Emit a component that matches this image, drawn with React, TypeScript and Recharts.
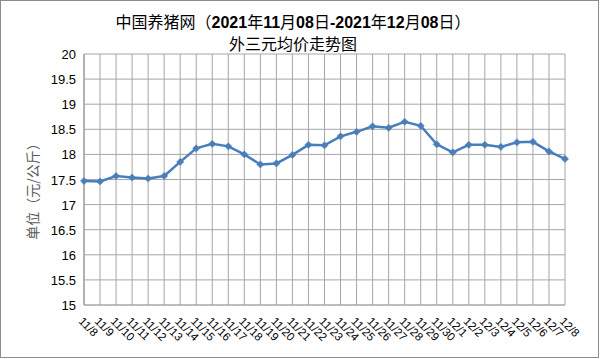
import React from 'react';
import { LineChart, Line, XAxis, YAxis, CartesianGrid } from 'recharts';

const dates = [
  '11/8', '11/9', '11/10', '11/11', '11/12', '11/13', '11/14', '11/15', '11/16', '11/17',
  '11/18', '11/19', '11/20', '11/21', '11/22', '11/23', '11/24', '11/25', '11/26', '11/27',
  '11/28', '11/29', '11/30', '12/1', '12/2', '12/3', '12/4', '12/5', '12/6', '12/7', '12/8',
];
const prices = [
  17.47, 17.46, 17.57, 17.54, 17.52, 17.57, 17.85, 18.12, 18.21, 18.16,
  18.0, 17.8, 17.82, 17.99, 18.19, 18.18, 18.36, 18.45, 18.56, 18.53,
  18.65, 18.57, 18.2, 18.04, 18.19, 18.19, 18.15, 18.24, 18.25, 18.06, 17.91,
];
const yTicks = [15, 15.5, 16, 16.5, 17, 17.5, 18, 18.5, 19, 19.5, 20];

const data = dates.map((d, i) => ({ date: d, price: prices[i] }));

const LINE = '#4a7ebb';
const GRID = '#a6a6a6';
const NUM_FONT = '"Liberation Sans", Arial, sans-serif';
const CJK_FONT = '"Noto Sans CJK SC", sans-serif';

const Diamond = (props: any) => {
  const { cx, cy } = props;
  if (cx == null || cy == null) return null;
  const r = 3.6;
  return (
    <path
      d={`M${cx},${cy - r}L${cx + r},${cy}L${cx},${cy + r}L${cx - r},${cy}Z`}
      fill={LINE}
      stroke={LINE}
      strokeWidth={0.5}
    />
  );
};

const XTick = (props: any) => {
  const { x, y, payload } = props;
  return (
    <text
      transform={`translate(${x - 6},${y + 9}) rotate(45)`}
      fontSize={11.5}
      fontFamily={NUM_FONT}
      fill="#000"
      textAnchor="start"
    >
      {payload.value}
    </text>
  );
};

const YTick = (props: any) => {
  const { x, y, payload } = props;
  return (
    <text x={x} y={y + 5} fontSize={13} fontFamily={NUM_FONT} fill="#000" textAnchor="end">
      {payload.value}
    </text>
  );
};

const num: React.CSSProperties = { fontWeight: 'bold', fontFamily: NUM_FONT };

export default function App() {
  return (
    <div
      style={{
        position: 'fixed',
        left: 0,
        top: 0,
        width: 600,
        height: 359,
        background: '#fff',
      }}
    >
      <svg width={600} height={359} style={{ position: 'absolute', left: 0, top: 0 }}>
        <rect x={0.5} y={0.5} width={598} height={357} fill="none" stroke="#8c8c8c" />
        <text
          transform="translate(38,188) rotate(-90)"
          fontSize={14}
          fontFamily={CJK_FONT}
          textAnchor="middle"
          fill="#595959"
        >
          单位（元/公斤）
        </text>
      </svg>
      <div
        style={{
          position: 'absolute',
          left: 0,
          top: 11,
          width: 586,
          textAlign: 'center',
          fontSize: 16,
          lineHeight: '21px',
          fontFamily: CJK_FONT,
          color: '#000',
          whiteSpace: 'nowrap',
        }}
      >
        <div>
          中国养猪网（<span style={num}>2021</span>年<span style={num}>11</span>月
          <span style={num}>08</span>日<span style={num}>-2021</span>年<span style={num}>12</span>月
          <span style={num}>08</span>日）
        </div>
        <div>外三元均价走势图</div>
      </div>
      <div style={{ position: 'absolute', left: 0, top: 0 }}>
        <LineChart
          width={600}
          height={359}
          data={data}
          margin={{ top: 54, right: 35, bottom: 0, left: 0 }}
        >
          <CartesianGrid stroke={GRID} strokeWidth={1} vertical horizontal />
          <XAxis
            dataKey="date"
            interval={0}
            height={54}
            tickLine={false}
            axisLine={{ stroke: GRID }}
            tick={<XTick />}
          />
          <YAxis
            domain={[15, 20]}
            ticks={yTicks}
            width={84}
            tickLine={false}
            axisLine={{ stroke: GRID }}
            tickSize={0}
            tickMargin={8}
            tick={<YTick />}
            interval={0}
          />
          <Line
            type="linear"
            dataKey="price"
            stroke={LINE}
            strokeWidth={2.5}
            dot={<Diamond />}
            activeDot={false}
            isAnimationActive={false}
          />
        </LineChart>
      </div>
    </div>
  );
}
